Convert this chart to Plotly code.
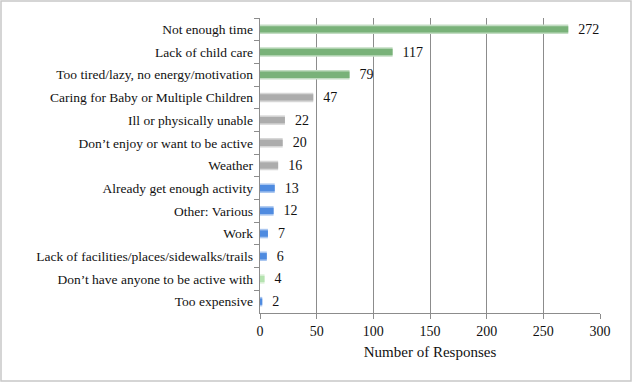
import plotly.graph_objects as go

categories = [
    "Not enough time",
    "Lack of child care",
    "Too tired/lazy, no energy/motivation",
    "Caring for Baby or Multiple Children",
    "Ill or physically unable",
    "Don’t enjoy or want to be active",
    "Weather",
    "Already get enough activity",
    "Other: Various",
    "Work",
    "Lack of facilities/places/sidewalks/trails",
    "Don’t have anyone to be active with",
    "Too expensive",
]
values = [272, 117, 79, 47, 22, 20, 16, 13, 12, 7, 6, 4, 2]
colors = ["#79b279", "#79b279", "#79b279",
          "#acacac", "#acacac", "#acacac", "#acacac",
          "#4f8be0", "#4f8be0", "#4f8be0", "#4f8be0",
          "#b5e3b0", "#4f8be0"]
halo = ["#c2dcc2", "#c2dcc2", "#c2dcc2",
        "#d6d6d6", "#d6d6d6", "#d6d6d6", "#d6d6d6",
        "#a9c6f0", "#a9c6f0", "#a9c6f0", "#a9c6f0",
        "#dff2dc", "#a9c6f0"]

font = "Liberation Serif"
txt = "#111111"

fig = go.Figure()
fig.add_trace(go.Bar(
    y=categories, x=values, orientation="h",
    marker=dict(color=halo, line=dict(width=0)),
    width=0.42, hoverinfo="skip", showlegend=False,
))
fig.add_trace(go.Bar(
    y=categories, x=values, orientation="h",
    marker=dict(color=colors, line=dict(width=0)),
    width=0.28, showlegend=False,
    text=["\u00a0\u00a0" + str(v) for v in values],
    textposition="outside", cliponaxis=False, constraintext="none",
    textfont=dict(family=font, size=14, color=txt),
))

W, H = 633, 383
ml, mr, mt, mb = 260, 33, 18, 70
pw = W - ml - mr
ph = H - mt - mb

fig.update_layout(
    width=W, height=H,
    margin=dict(l=ml, r=mr, t=mt, b=mb),
    barmode="overlay",
    uniformtext=dict(mode=False),
    plot_bgcolor="white", paper_bgcolor="white",
    font=dict(family=font, size=14, color=txt),
    xaxis=dict(
        range=[0, 300], dtick=50, showgrid=True, gridcolor="#8c8c8c", gridwidth=1,
        zeroline=False, showline=True, linecolor="#8c8c8c", linewidth=1,
        ticks="outside", ticklen=5, tickcolor="#8c8c8c",
        title=dict(text="Number of Responses", font=dict(family=font, size=15, color=txt), standoff=8),
        tickfont=dict(family=font, size=14, color=txt),
    ),
    yaxis=dict(
        categoryorder="array", categoryarray=categories, autorange="reversed",
        showline=True, linecolor="#8c8c8c", linewidth=1,
        ticks="outside", ticklen=5, tickcolor="#8c8c8c", tickson="boundaries",
        showgrid=False, tickfont=dict(family=font, size=13.5, color=txt),
        ticksuffix=" ",
    ),
    shapes=[dict(
        type="rect", xref="paper", yref="paper",
        x0=-(ml - 1) / pw, x1=(pw + mr - 2) / pw,
        y0=-(mb - 2) / ph, y1=(ph + mt - 1) / ph,
        line=dict(color="#c8c8c8", width=1.5), fillcolor="rgba(0,0,0,0)",
        layer="below",
    )],
)

fig.write_html("out.html")
